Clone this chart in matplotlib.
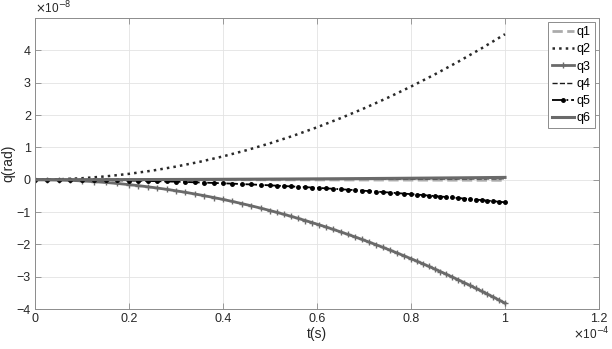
import matplotlib
matplotlib.use("Agg")
from matplotlib import pyplot as plt

plt.rcParams['font.family'] = ['Liberation Sans', 'DejaVu Sans']

# time in units of 1e-4 s, angles in units of 1e-8 rad
# coarse time grid for the curves drawn without markers
t_c = [0, 0.05, 0.1, 0.15, 0.2, 0.25, 0.3, 0.35, 0.4, 0.45, 0.5,
       0.55, 0.6, 0.65, 0.7, 0.75, 0.8, 0.85, 0.9, 0.95, 1.0]
q1 = [0, -0.0001, -0.0002, -0.0005, -0.0008, -0.0013, -0.0018, -0.0025, -0.0032, -0.0041, -0.005,
      -0.006, -0.0072, -0.0085, -0.0098, -0.0113, -0.0128, -0.0145, -0.0162, -0.0181, -0.02]
q2 = [0, 0.011, 0.045, 0.101, 0.18, 0.281, 0.405, 0.551, 0.72, 0.911, 1.125,
      1.361, 1.62, 1.901, 2.205, 2.531, 2.88, 3.251, 3.645, 4.061, 4.5]
q4 = [0, 0.0001, 0.0003, 0.0007, 0.0012, 0.0019, 0.0027, 0.0037, 0.0048, 0.0061, 0.0075,
      0.0091, 0.0108, 0.0127, 0.0147, 0.0169, 0.0192, 0.0217, 0.0243, 0.0271, 0.03]
q6 = [0, 0.0002, 0.0007, 0.0016, 0.0028, 0.0044, 0.0063, 0.0086, 0.0112, 0.0142, 0.0175,
      0.0212, 0.0252, 0.0296, 0.0343, 0.0394, 0.0448, 0.0506, 0.0567, 0.0632, 0.07]

# solver steps (get finer towards the end) for the marked curves
t_f = [0, 0.025, 0.05, 0.075, 0.1, 0.125, 0.15, 0.175, 0.2,
       0.22, 0.24, 0.26, 0.28, 0.30, 0.32, 0.34, 0.36, 0.38, 0.40,
       0.42, 0.44, 0.46, 0.48, 0.50,
       0.515, 0.53, 0.545, 0.56, 0.575, 0.59, 0.605, 0.62, 0.635, 0.65,
       0.665, 0.68, 0.695, 0.71, 0.725, 0.74, 0.755, 0.77, 0.785, 0.80,
       0.8125, 0.825, 0.8375, 0.85, 0.8625, 0.875, 0.8875, 0.90,
       0.9125, 0.925, 0.9375, 0.95, 0.9625, 0.975, 0.9875, 1.0]
q3 = [0, -0.002, -0.010, -0.021, -0.038, -0.060, -0.086, -0.117, -0.153,
      -0.185, -0.220, -0.258, -0.299, -0.344, -0.391, -0.442, -0.495, -0.552, -0.611,
      -0.674, -0.740, -0.808, -0.880, -0.955,
      -1.013, -1.073, -1.135, -1.198, -1.263, -1.330, -1.398, -1.468, -1.540, -1.614,
      -1.689, -1.766, -1.845, -1.926, -2.008, -2.092, -2.178, -2.265, -2.354, -2.445,
      -2.522, -2.600, -2.679, -2.760, -2.842, -2.925, -3.009, -3.094,
      -3.181, -3.268, -3.357, -3.448, -3.539, -3.631, -3.725, -3.82]
q5 = [0, -0.0004, -0.0018, -0.0039, -0.007, -0.011, -0.016, -0.021, -0.028,
      -0.034, -0.040, -0.047, -0.055, -0.063, -0.072, -0.081, -0.091, -0.101, -0.112,
      -0.123, -0.136, -0.148, -0.161, -0.175,
      -0.186, -0.197, -0.208, -0.220, -0.231, -0.244, -0.256, -0.269, -0.282, -0.296,
      -0.310, -0.324, -0.338, -0.353, -0.368, -0.383, -0.399, -0.415, -0.431, -0.448,
      -0.462, -0.476, -0.491, -0.506, -0.521, -0.536, -0.551, -0.567,
      -0.583, -0.599, -0.615, -0.632, -0.648, -0.665, -0.683, -0.700]

xticks = [0, 0.2, 0.4, 0.6, 0.8, 1, 1.2]
xticklabels = ['0', '0.2', '0.4', '0.6', '0.8', '1', '1.2']
yticks = [-4, -3, -2, -1, 0, 1, 2, 3, 4]

fig = plt.figure(figsize=(6.12, 3.49), dpi=100)
ax = fig.add_axes([0.0572, 0.1146, 0.9216, 0.8338])

ax.plot(t_c, q1, '--', color='#ababab', lw=2.0, label='q1')
ax.plot(t_c, q2, ':', color='#2a2a2a', lw=1.8, label='q2')
ax.plot(t_f, q3, '-', color='#6a6a6a', lw=2.0, marker='+', ms=4, mew=1.0, label='q3')
ax.plot(t_c, q4, '--', color='#1a1a1a', lw=1.0, label='q4')
ax.plot(t_f, q5, '-.', color='#000000', lw=1.3, marker='.', ms=5, label='q5')
ax.plot(t_c, q6, '-', color='#6a6a6a', lw=2.2, label='q6')

ax.set_xlim(0, 1.2)
ax.set_ylim(-4, 5)
ax.set_xticks(xticks)
ax.set_xticklabels(xticklabels)
ax.set_yticks(yticks)
ax.tick_params(direction='in', length=4, width=0.6, top=True, right=True,
               labelsize=9, colors='#8c8c8c', labelcolor='#262626', pad=3)
for s in ax.spines.values():
    s.set_color('#8c8c8c')
    s.set_linewidth(0.7)
ax.grid(True, color='#e3e3e3', lw=0.6)
ax.set_axisbelow(True)

ax.set_xlabel('t(s)', fontsize=10, color='#262626', labelpad=1)
ax.set_ylabel('q(rad)', fontsize=10, color='#262626', labelpad=1)

fig.text(0.0572, 0.953, r'$\times$10$^{-8}$', fontsize=8.5, color='#262626', ha='left', va='bottom')
fig.text(0.997, 0.02, r'$\times$10$^{-4}$', fontsize=8.5, color='#262626', ha='right', va='bottom')

leg = ax.legend(loc='upper right', fontsize=9, fancybox=False, framealpha=1,
                edgecolor='#8c8c8c', handlelength=1.8, handletextpad=0.2,
                labelspacing=0.42, borderpad=0.3, borderaxespad=0.35)
leg.get_frame().set_linewidth(0.7)

fig.savefig('out.png', dpi=100)
